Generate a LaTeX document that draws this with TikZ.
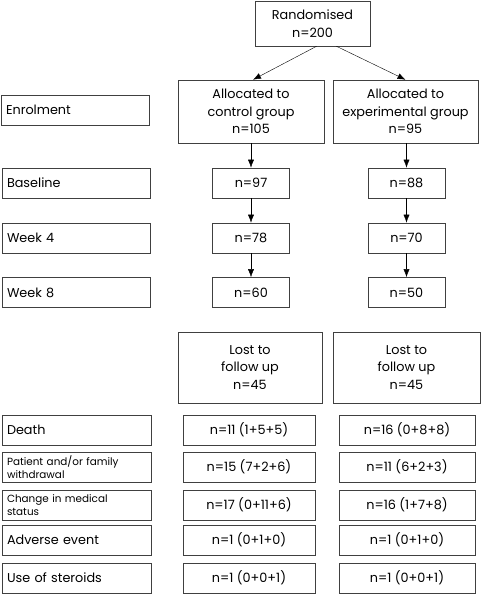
\documentclass[tikz,border=0pt]{standalone}
\usepackage{fontspec}
\setmainfont{Poppins}
\usetikzlibrary{arrows.meta}

\tikzset{
  box/.style={draw=black!75, line width=0.6pt, rectangle, inner sep=0pt, align=center, font=\fontsize{12.8}{17.5}\selectfont},
  rowlabel/.style={box, align=left, text width=#1},
  smalllabel/.style={box, align=left, text width=#1, font=\fontsize{10.4}{12.5}\selectfont},
}

\begin{document}
\begin{tikzpicture}[x=1pt, y=-1pt, >={Latex[length=8pt,width=6pt]}]
			\useasboundingbox (0,0) rectangle (482,598);
			% top of the flow
			\node[box, minimum width=115, minimum height=45] (rand) at (312.5,23.5) {Randomised\\n=200};
			\node[box, minimum width=146, minimum height=63] (ctrl) at (251,111.5) {Allocated to\\control group\\n=105};
			\node[box, minimum width=145, minimum height=63] (expt) at (405.5,111.5) {Allocated to\\experimental group\\n=95};
			\draw [->] ([xshift=4]rand.south) -- ([xshift=2]ctrl.north);
			\draw [->] ([xshift=24]rand.south) -- (expt.north);
			% time points
			\node[rowlabel=138, minimum width=148, minimum height=30] (enrol) at (75,110) {Enrolment};
			\node[rowlabel=138, minimum width=148, minimum height=30] (base) at (76,183) {Baseline};
			\node[rowlabel=138, minimum width=148, minimum height=30] (wkfour) at (76,238) {Week 4};
			\node[rowlabel=138, minimum width=148, minimum height=30] (wkeight) at (76,292.5) {Week 8};
			\node[box, minimum width=77, minimum height=30] (cbase) at (251,183) {n=97};
			\node[box, minimum width=77, minimum height=30] (cfour) at (251,238) {n=78};
			\node[box, minimum width=77, minimum height=30] (ceight) at (251,292.5) {n=60};
			\node[box, minimum width=77, minimum height=30] (ebase) at (406.5,183) {n=88};
			\node[box, minimum width=77, minimum height=30] (efour) at (406.5,238) {n=70};
			\node[box, minimum width=77, minimum height=30] (eeight) at (406.5,292.5) {n=50};
			\draw [->] (ctrl.south -| cbase.north) -- (cbase.north);
			\draw [->] (cbase) -- (cfour);
			\draw [->] (cfour) -- (ceight);
			\draw [->] (expt.south -| ebase.north) -- (ebase.north);
			\draw [->] (ebase) -- (efour);
			\draw [->] (efour) -- (eeight);
			% losses
			\node[box, minimum width=144, minimum height=71] (clost) at (250,367.5) {Lost to\\follow up\\n=45};
			\node[box, minimum width=147, minimum height=71] (elost) at (406.5,367.5) {Lost to\\follow up\\n=45};
			\node[rowlabel=139, minimum width=149, minimum height=30] (death) at (76.5,430) {Death};
			\node[smalllabel=139, minimum width=149, minimum height=30] (withdr) at (76.5,467) {Patient and/or family\\withdrawal};
			\node[smalllabel=139, minimum width=149, minimum height=30] (medic) at (76.5,505) {Change in medical\\status};
			\node[rowlabel=139, minimum width=149, minimum height=30] (advers) at (76.5,540) {Adverse event};
			\node[rowlabel=139, minimum width=149, minimum height=30] (steroid) at (76.5,578) {Use of steroids};
			\node[box, minimum width=132, minimum height=30] (cdeath) at (249,430) {n=11 (1+5+5)};
			\node[box, minimum width=132, minimum height=30] (cwithdr) at (249,467) {n=15 (7+2+6)};
			\node[box, minimum width=132, minimum height=30] (cmedic) at (249,505) {n=17 (0+11+6)};
			\node[box, minimum width=132, minimum height=30] (cadvers) at (249,540) {n=1 (0+1+0)};
			\node[box, minimum width=132, minimum height=30] (csteroid) at (249,578) {n=1 (0+0+1)};
			\node[box, minimum width=136, minimum height=30] (edeath) at (407,430) {n=16 (0+8+8)};
			\node[box, minimum width=136, minimum height=30] (ewithdr) at (407,467) {n=11 (6+2+3)};
			\node[box, minimum width=136, minimum height=30] (emedic) at (407,505) {n=16 (1+7+8)};
			\node[box, minimum width=136, minimum height=30] (eadvers) at (407,540) {n=1 (0+1+0)};
			\node[box, minimum width=136, minimum height=30] (esteroid) at (407,578) {n=1 (0+0+1)};
\end{tikzpicture}
\end{document}
